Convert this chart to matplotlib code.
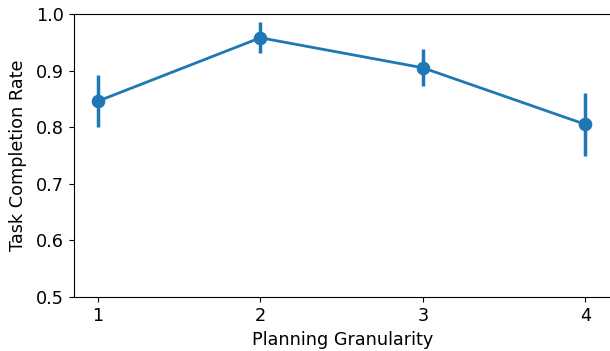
import matplotlib
matplotlib.use('Agg')
import matplotlib.pyplot as plt

# data
granularity = [1, 2, 3, 4]
completion = [0.846, 0.958, 0.905, 0.805]
err_low = [0.801, 0.931, 0.873, 0.749]
err_high = [0.892, 0.985, 0.938, 0.860]

yerr = [[m - lo for m, lo in zip(completion, err_low)],
        [hi - m for m, hi in zip(completion, err_high)]]

fig = plt.figure(figsize=(6.1, 3.51), dpi=100)
ax = fig.add_axes([73.5 / 610, 1 - 297 / 351, 537.5 / 610, 283 / 351])

ax.errorbar(granularity, completion, yerr=yerr, color='#1f77b4', linewidth=2,
            elinewidth=2.5, marker='o', markersize=8.8, capsize=0)

ax.set_ylim(0.5, 1.0)
ax.set_xlim(0.85, 4.158)
ax.set_xticks(granularity)
ax.tick_params(labelsize=12.7)
ax.tick_params(axis='x', pad=4)
ax.set_xlabel('Planning Granularity', fontsize=12.7, labelpad=4)
ax.set_ylabel('Task Completion Rate', fontsize=12.7, labelpad=6)

fig.savefig('out.png', dpi=100)
